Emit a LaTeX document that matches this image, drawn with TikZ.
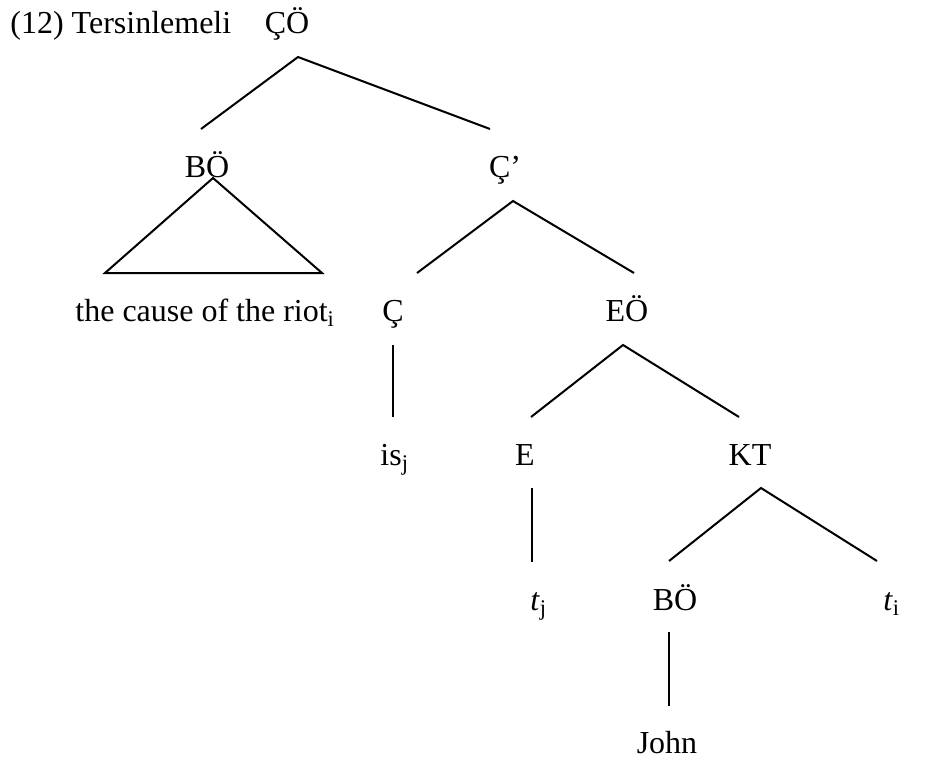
\documentclass[tikz,border=0pt]{standalone}
\usepackage{fontspec}
\setmainfont{Liberation Serif}
\usetikzlibrary{positioning}
\tikzset{
  cat/.style={anchor=base, inner sep=0pt, font=\fontsize{16}{19}\selectfont},
  branch/.style={line width=1pt, line cap=butt}
}

\begin{document}
\begin{tikzpicture}[x=0.5pt, y=-0.5pt]
  \useasboundingbox (0,0) rectangle (925,760);

  % labels
  \node[cat, anchor=base west] (ex) at (10,33) {(12) Tersinlemeli};
  \node[cat] (co) at (287,33) {ÇÖ};
  \node[cat] (bo) at (207,177) {BÖ};
  \node[cat] (cbar) at (505,177) {Ç’};
  \node[cat, anchor=base west] (riot) at (75,321) {the cause of the riot\textsubscript{i}};
  \node[cat] (c) at (393,321) {Ç};
  \node[cat] (eo) at (627,321) {EÖ};
  \node[cat, anchor=base west] (isj) at (380,465) {is\textsubscript{j}};
  \node[cat] (e) at (525,465) {E};
  \node[cat] (kt) at (750,465) {KT};
  \node[cat, anchor=base west] (tj) at (530,610) {\textit{t}\textsubscript{j}};
  \node[cat] (bo2) at (675,610) {BÖ};
  \node[cat, anchor=base west] (ti) at (883,610) {\textit{t}\textsubscript{i}};
  \node[cat] (john) at (667,753) {John};

  % branch points
  \coordinate (co-top) at (298,57);
  \coordinate (co-l) at (201,129);
  \coordinate (co-r) at (490,129);
  \coordinate (bo-top) at (213,178);
  \coordinate (bo-l) at (105,273);
  \coordinate (bo-r) at (322,273);
  \coordinate (cbar-top) at (513,201);
  \coordinate (cbar-l) at (417,273);
  \coordinate (cbar-r) at (634,273);
  \coordinate (c-top) at (393,345);
  \coordinate (c-bot) at (393,417);
  \coordinate (eo-top) at (623,345);
  \coordinate (eo-l) at (531,417);
  \coordinate (eo-r) at (739,417);
  \coordinate (e-top) at (532,488);
  \coordinate (e-bot) at (532,562);
  \coordinate (kt-top) at (761,488);
  \coordinate (kt-l) at (669,561);
  \coordinate (kt-r) at (877,561);
  \coordinate (bo2-top) at (669,632);
  \coordinate (bo2-bot) at (669,706);

  \draw[branch] (co-l) -- (co-top) -- (co-r);
  \draw[branch] (bo-top) -- (bo-l) -- (bo-r) -- cycle;
  \draw[branch] (cbar-l) -- (cbar-top) -- (cbar-r);
  \draw[branch] (c-top) -- (c-bot);
  \draw[branch] (eo-l) -- (eo-top) -- (eo-r);
  \draw[branch] (e-top) -- (e-bot);
  \draw[branch] (kt-l) -- (kt-top) -- (kt-r);
  \draw[branch] (bo2-top) -- (bo2-bot);
\end{tikzpicture}
\end{document}
